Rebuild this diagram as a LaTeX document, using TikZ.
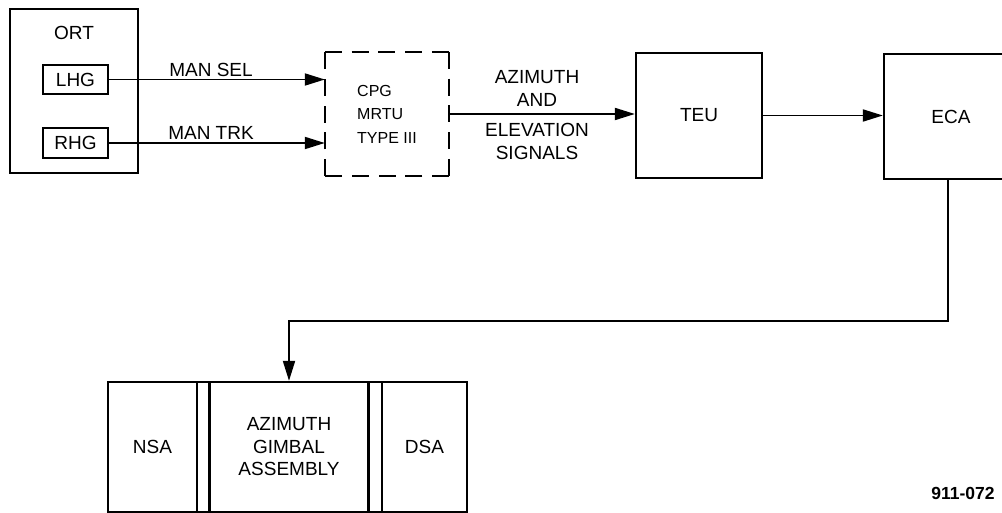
\documentclass[tikz,border=0pt]{standalone}
\usepackage{fontspec}
\setmainfont{Liberation Sans}
\usetikzlibrary{arrows.meta}
\begin{document}
\begin{tikzpicture}[x=1pt,y=-1pt,
  box/.style={draw, line width=2.3pt, inner sep=0pt, font=\fontsize{19}{23}\selectfont, align=center},
  lbl/.style={inner sep=0pt, font=\fontsize{19}{23}\selectfont, align=center},
  conn/.style={line width=1.9pt},
  arr/.style={conn, -{Triangle[length=20pt,width=12pt]}},
  dsh/.style={line width=2.3pt, dash pattern=on 17pt off 9.75pt}]
\useasboundingbox (0,0) rectangle (1002,513);
\clip (0,0) rectangle (1002,513);

% ORT group
\node[box, minimum width=128pt, minimum height=164pt] (ORT) at (74,91) {};
\node[lbl] (ORTl) at (74,33) {ORT};
\node[box, minimum width=65pt, minimum height=29pt] (LHG) at (75.5,79.5) {LHG};
\node[box, minimum width=65pt, minimum height=30pt] (RHG) at (75.5,143) {RHG};

% CPG dashed box
\node[inner sep=0pt, minimum width=124pt, minimum height=124pt, align=left,
      font=\fontsize{16}{23.5}\selectfont] (CPG) at (387,114) {CPG\\MRTU\\TYPE III};
\draw[dsh] (CPG.north west) -- (CPG.north east);
\draw[dsh] (CPG.north east) -- (CPG.south east);
\draw[dsh] (CPG.south east) -- (CPG.south west);
\draw[dsh] (CPG.south west) -- (CPG.north west);

% TEU, ECA
\node[box, minimum width=126pt, minimum height=125pt] (TEU) at (699,115.5) {TEU};
\node[box, minimum width=134pt, minimum height=125pt] (ECA) at (951,116.5) {ECA};

% bottom assembly
\node[box, minimum width=359pt, minimum height=130pt] (ASM) at (287.5,447) {};
\node[box, minimum width=89pt, minimum height=130pt] (NSA) at (152.5,447) {NSA};
\node[box, minimum width=159pt, minimum height=130pt, font=\fontsize{19}{22.5}\selectfont] (AGA) at (289,447) {AZIMUTH\\GIMBAL\\ASSEMBLY};
\node[box, minimum width=85pt, minimum height=130pt] (DSA) at (424.5,447) {DSA};

% connectors
\draw[arr] (LHG.east) -- (LHG.east -| CPG.west);
\draw[arr] (RHG.east) -- (RHG.east -| CPG.west);
\draw[arr] (CPG.east) -- (CPG.east -| TEU.west);
\draw[arr] (TEU.east) -- (TEU.east -| ECA.west);
\coordinate (bend) at (289,321);
\draw[arr] ([xshift=-3pt]ECA.south) |- (bend) -- (AGA.north);

% labels
\node[lbl] (mansel) at (211,70) {MAN SEL};
\node[lbl] (mantrk) at (211,133) {MAN TRK};
\node[lbl] (az1) at (537,88.5) {AZIMUTH\\AND};
\node[lbl] (az2) at (537,141.5) {ELEVATION\\SIGNALS};
\node[inner sep=0pt, font=\fontsize{17.5}{20}\selectfont\bfseries] (fig) at (963,493) {911-072};
\end{tikzpicture}
\end{document}
